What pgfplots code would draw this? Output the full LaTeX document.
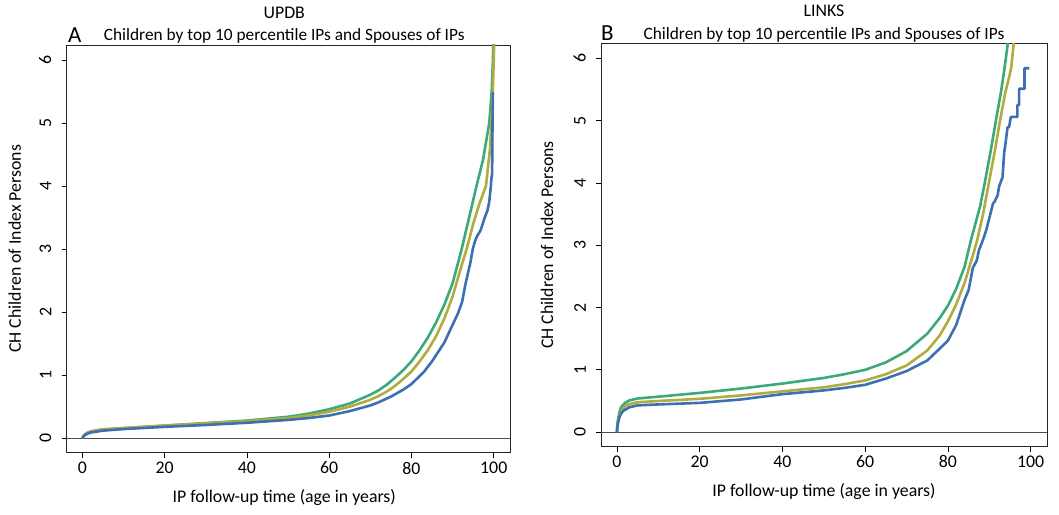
\documentclass[border=0pt]{standalone}
\usepackage{fontspec}
\setmainfont{Carlito}
\usepackage{pgfplots}
\pgfplotsset{compat=1.18}
\definecolor{cgreen}{RGB}{60,170,120}
\definecolor{colive}{RGB}{176,172,62}
\definecolor{cblue}{RGB}{60,112,178}
\newcommand{\fs}{\fontsize{17.8}{20}\selectfont}
\newcommand{\ft}{\fontsize{17.3}{20}\selectfont}
\pgfplotsset{
  panel/.style={
    scale only axis, anchor=south west,
    xmin=-3.85, xmax=103.95, ymin=-0.23, ymax=6.24,
    xtick={0,20,40,60,80,100}, ytick={0,1,2,3,4,5,6},
    tick align=outside, xtick pos=left, ytick pos=left,
    major tick length=5pt,
    tick style={black, line width=0.7pt},
    axis line style={black!85, line width=0.8pt},
    tick label style={font=\fs},
    /pgf/number format/assume math mode=true,
    yticklabel style={rotate=90, anchor=south, inner sep=0pt},
    xticklabel style={inner sep=0pt, yshift=-4pt},
    yticklabel shift=10pt,
    clip mode=individual,
  },
  curve/.style={line width=2.6pt, line join=round, #1},
}
\begin{document}
\begin{tikzpicture}
\useasboundingbox (0,0) rectangle (1059pt,514pt);
% ---------------- Panel A ----------------
\begin{axis}[panel, at={(66.5pt,61.3pt)}, width=443.5pt, height=407.7pt]
\addplot[black!70, line width=0.8pt, forget plot] coordinates {(-3.85,0) (103.95,0)};
\addplot[curve=cgreen] coordinates {
(0,0) (0.2,0.03) (0.5,0.05) (1,0.08) (2,0.105) (3,0.12) (5,0.14) (10,0.16) (15,0.18) (20,0.20) (25,0.22) (30,0.24) (35,0.26) (40,0.28) (45,0.31) (50,0.34) (55,0.39) (60,0.46) (65,0.55) (70,0.69) (72,0.76) (74,0.85) (76,0.96) (78,1.08) (80,1.22) (82,1.40) (84,1.60) (86,1.84) (88,2.12) (90,2.46) (92.2,3.0) (94,3.5) (95.8,4.0) (97.4,4.42) (98.9,5.0) (99.5,5.5) (99.8,6.0) (99.9,6.3)};
\addplot[curve=colive] coordinates {
(0,0) (0.5,0.05) (1,0.08) (2,0.105) (3,0.12) (5,0.14) (10,0.16) (20,0.20) (30,0.235) (40,0.27) (50,0.32) (55,0.36) (60,0.42) (65,0.50) (70,0.61) (72,0.67) (74,0.74) (76,0.83) (78,0.94) (80,1.06) (82,1.22) (84,1.40) (86,1.62) (88,1.90) (90,2.25) (92,2.70) (93.4,3.0) (95,3.4) (96.5,3.72) (98.1,4.0) (99.1,4.6) (99.7,5.37) (100,6.0) (100.1,6.3)};
\addplot[curve=cblue] coordinates {
(0,0) (0.3,0.03) (0.7,0.05) (1,0.065) (2,0.09) (3,0.10) (5,0.12) (10,0.145) (20,0.18) (30,0.21) (40,0.245) (50,0.29) (55,0.32) (60,0.36) (65,0.43) (70,0.52) (72,0.57) (75,0.66) (78,0.77) (80,0.86) (83,1.05) (85,1.22) (88,1.52) (90,1.80) (91.3,1.98) (92.3,2.16) (93.1,2.44) (94.3,2.78) (94.9,3.0) (95.4,3.12) (95.9,3.2) (96.8,3.3) (97.8,3.5) (98.5,3.62) (98.9,3.75) (99.3,4.0) (99.4,4.1) (99.6,4.2) (99.7,5.0) (99.8,5.48) (100,5.48)};
\node[font=\ft, anchor=base] at ([xshift=-4pt,yshift=4pt]axis description cs:0.5,1) {Children by top 10 percentile IPs and Spouses of IPs};
\node[font=\fs, anchor=base] at ([xshift=-4pt,yshift=26.5pt]axis description cs:0.5,1) {UPDB};
\node[font=\fontsize{23}{26}\selectfont, anchor=base west, inner sep=0pt] at ([xshift=1.5pt,yshift=2.5pt]axis description cs:0,1) {A};
\node[font=\fs, anchor=base] at ([xshift=-4pt,yshift=-50pt]axis description cs:0.5,0) {IP follow-up time (age in years)};
\node[font=\fs, anchor=base, rotate=90] at ([xshift=-45.5pt]axis description cs:0,0.5) {CH Children of Index Persons};
\end{axis}
% ---------------- Panel B ----------------
\begin{axis}[panel, at={(601pt,67.5pt)}, width=446pt, height=403.2pt]
\addplot[black!70, line width=0.8pt, forget plot] coordinates {(-3.85,0) (103.95,0)};
\addplot[curve=cgreen] coordinates {
(0,0) (0.1,0.12) (0.3,0.22) (0.6,0.32) (1,0.40) (1.5,0.44) (2,0.47) (3,0.51) (5,0.54) (10,0.57) (20,0.63) (30,0.70) (40,0.78) (50,0.87) (55,0.93) (60,1.00) (65,1.12) (70,1.30) (75,1.58) (78,1.83) (80,2.03) (82,2.30) (84,2.65) (85.6,3.09) (87.8,3.63) (88.9,4.0) (90.3,4.5) (91.6,5.0) (92.8,5.45) (93.6,5.8) (94.6,6.3)};
\addplot[curve=colive] coordinates {
(0,0) (0.1,0.1) (0.3,0.18) (0.6,0.26) (1,0.33) (1.5,0.38) (2,0.42) (3,0.45) (5,0.48) (10,0.50) (20,0.535) (30,0.59) (40,0.655) (50,0.72) (55,0.77) (60,0.83) (65,0.93) (70,1.07) (75,1.31) (78,1.55) (80,1.78) (82,2.05) (84,2.39) (86.4,2.92) (87.1,3.09) (88.5,3.5) (89.9,4.0) (91.3,4.5) (92.6,5.0) (93.8,5.43) (94.8,5.7) (95.3,5.85) (96.0,6.3)};
\addplot[curve=cblue] coordinates {
(0,0) (0.1,0.08) (0.3,0.16) (0.6,0.24) (1,0.30) (1.5,0.34) (2,0.36) (3,0.40) (5,0.43) (10,0.445) (20,0.47) (30,0.525) (40,0.61) (50,0.67) (55,0.71) (60,0.76) (65,0.86) (70,0.98) (75,1.15) (78,1.34) (80,1.47) (82,1.72) (84,2.12) (85,2.28) (86,2.63) (87,2.76) (87.5,2.92) (88.5,3.09) (89.3,3.25) (90.9,3.67) (91.3,3.70) (92.0,3.80) (92.4,3.95) (93.2,4.09) (93.6,4.49) (93.9,4.62) (94.4,4.89) (94.8,4.90) (95.2,5.06) (96.8,5.06) (96.8,5.25) (97.2,5.25) (97.2,5.51) (98.5,5.51) (98.5,5.84) (99.7,5.84)};
\node[font=\ft, anchor=base] at ([yshift=4pt]axis description cs:0.5,1) {Children by top 10 percentile IPs and Spouses of IPs};
\node[font=\fs, anchor=base] at ([yshift=26.5pt]axis description cs:0.5,1) {LINKS};
\node[font=\fontsize{23}{26}\selectfont, anchor=base west, inner sep=0pt] at ([xshift=0pt,yshift=2.5pt]axis description cs:0,1) {B};
\node[font=\fs, anchor=base] at ([yshift=-50pt]axis description cs:0.5,0) {IP follow-up time (age in years)};
\node[font=\fs, anchor=base, rotate=90] at ([xshift=-48pt]axis description cs:0,0.5) {CH Children of Index Persons};
\end{axis}
\end{tikzpicture}
\end{document}
